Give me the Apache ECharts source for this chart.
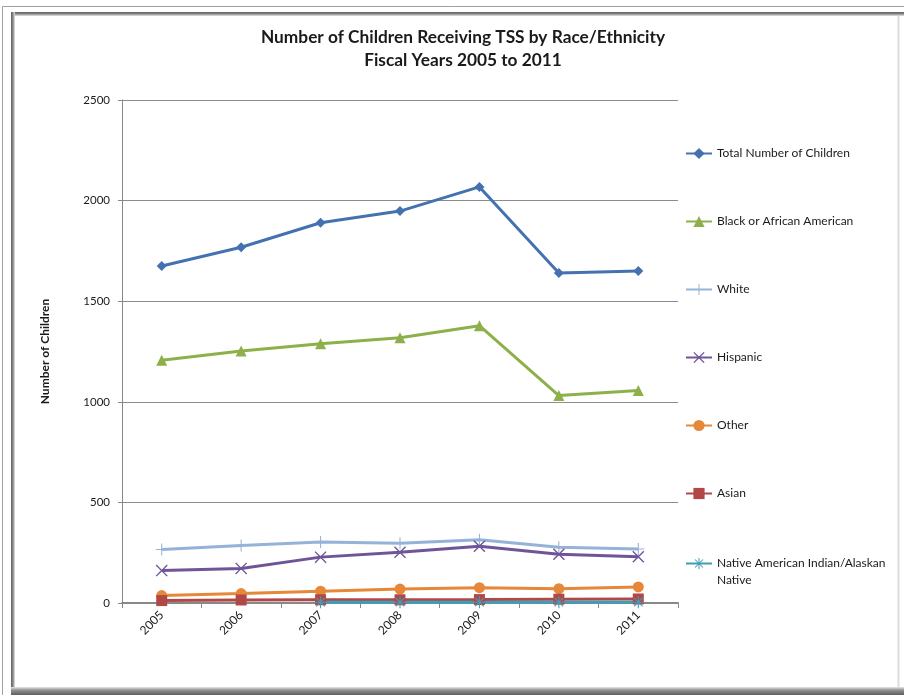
<!DOCTYPE html>
<html>
<head>
<meta charset="utf-8">
<script src="https://cdn.jsdelivr.net/npm/echarts@6/dist/echarts.min.js"></script>
<style>
html,body{margin:0;padding:0;background:#fff;}
#c{width:904px;height:695px;}
</style>
</head>
<body>
<div id="c"></div>
<script>
var years = ['2005','2006','2007','2008','2009','2010','2011'];
var totalChildren = [1675, 1768, 1890, 1948, 2068, 1640, 1650];
var blackAfricanAmerican = [1207, 1252, 1288, 1318, 1378, 1031, 1056];
var white = [266, 286, 303, 297, 314, 277, 268];
var hispanic = [161, 172, 228, 252, 282, 242, 230];
var other = [37, 47, 59, 69, 76, 71, 80];
var asian = [12, 15, 16, 16, 17, 19, 20];
var nativeAmerican = [null, null, 4, 4, 4, 4, 4];
var yTicks = [0, 500, 1000, 1500, 2000, 2500];

var FONT = 'Lato';
var plusPath = 'path://M-0.7,-8H0.7V-0.7H8V0.7H0.7V8H-0.7V0.7H-8V-0.7H-0.7Z';
var xPath = 'path://M-6.2,-5.2L-5.2,-6.2L0,-1L5.2,-6.2L6.2,-5.2L1,0L6.2,5.2L5.2,6.2L0,1L-5.2,6.2L-6.2,5.2L-1,0Z';
var starPath = 'path://M-0.7,-8H0.7V8H-0.7Z M-8,-0.7H8V0.7H-8Z M-6.2,-5.2L-5.2,-6.2L6.2,5.2L5.2,6.2Z M5.2,-6.2L6.2,-5.2L-5.2,6.2L-6.2,5.2Z';

function mk(name, data, color, symbol, size) {
  return {
    name: name, type: 'line', data: data,
    symbol: symbol, symbolSize: size,
    lineStyle: {color: color, width: 3},
    itemStyle: {color: color},
    connectNulls: false,
    animation: false
  };
}

function band(x, y, w, h, vertical) {
  return {type: 'rect', silent: true, shape: {x: x, y: y, width: w, height: h},
    style: {fill: new echarts.graphic.LinearGradient(vertical ? 1 : 0, vertical ? 0 : 1, 0, 0, [
      {offset: 0, color: '#e6e6e6'}, {offset: 0.5, color: '#8a8a8a'}, {offset: 1, color: '#5f5f5f'}])}};
}

var NATIVE = 'Native American Indian/Alaskan Native';
var legendText = {fontFamily: FONT, fontSize: 12, color: '#1a1a1a', lineHeight: 17};

var chart = echarts.init(document.getElementById('c'));
chart.setOption({
  animation: false,
  backgroundColor: '#fff',
  title: {
    text: 'Number of Children Receiving TSS by Race/Ethnicity\nFiscal Years 2005 to 2011',
    left: 458, top: 21, textAlign: 'center',
    textStyle: {fontFamily: FONT, fontSize: 17.3, fontWeight: 'bold', color: '#1a1a1a', lineHeight: 23}
  },
  graphic: [
    {type: 'polyline', silent: true, shape: {points: [[2.5, 695], [2.5, 6.5], [904, 6.5]]}, style: {fill: null, stroke: '#a0a0a0', lineWidth: 1}},
    band(11, 12, 893, 4, false),
    band(11, 12, 4, 683, true),
    {type: 'rect', silent: true, shape: {x: 11, y: 687, width: 893, height: 8},
      style: {fill: new echarts.graphic.LinearGradient(0, 0, 0, 1, [
        {offset: 0, color: '#e8e8e8'}, {offset: 0.4, color: '#909090'}, {offset: 1, color: '#5f5f5f'}])}},
    {type: 'line', silent: true, shape: {x1: 898.5, y1: 16, x2: 898.5, y2: 687}, style: {stroke: '#dcdcdc', lineWidth: 2}}
  ],
  legend: [{
    orient: 'vertical',
    left: 685, top: 145, padding: 0,
    itemWidth: 26, itemHeight: 14, itemGap: 51,
    textStyle: legendText,
    data: ['Total Number of Children', 'Black or African American', 'White', 'Hispanic', 'Other', 'Asian']
  }, {
    orient: 'vertical',
    left: 685, top: 538, padding: 0,
    itemWidth: 26, itemHeight: 14,
    textStyle: legendText,
    data: [NATIVE],
    formatter: function () { return ' \nNative American Indian/Alaskan\nNative'; }
  }],
  grid: {left: 122, right: 226, top: 100, bottom: 92, containLabel: false},
  xAxis: {
    type: 'category', data: years, boundaryGap: true,
    axisLine: {lineStyle: {color: '#888', width: 2}},
    axisTick: {show: true, length: 5, lineStyle: {color: '#888'}},
    axisLabel: {rotate: 45, margin: 10, fontFamily: FONT, fontSize: 12, color: '#1a1a1a'}
  },
  yAxis: {
    type: 'value', min: 0, max: 2500, interval: 500,
    name: 'Number of Children', nameLocation: 'middle', nameGap: 71,
    nameTextStyle: {fontFamily: FONT, fontSize: 12, fontWeight: 'bold', color: '#1a1a1a'},
    axisLine: {show: true, lineStyle: {color: '#888'}},
    axisTick: {show: true, length: 4, lineStyle: {color: '#888'}},
    axisLabel: {margin: 12, fontFamily: FONT, fontSize: 11.5, color: '#1a1a1a',
      formatter: function (v) { return yTicks.indexOf(v) >= 0 ? String(v) : ''; }},
    splitLine: {lineStyle: {color: '#8c8c8c'}}
  },
  series: [
    mk('Total Number of Children', totalChildren, '#4472b0', 'diamond', 10),
    mk('Black or African American', blackAfricanAmerican, '#8db04a', 'triangle', 11),
    mk('White', white, '#95b2d8', plusPath, 12),
    mk('Hispanic', hispanic, '#6f5598', xPath, 12),
    mk('Other', other, '#e5883a', 'circle', 11),
    mk('Asian', asian, '#b04848', 'rect', 11),
    mk(NATIVE, nativeAmerican, '#3f9db8', starPath, 12)
  ]
});
</script>
</body>
</html>
